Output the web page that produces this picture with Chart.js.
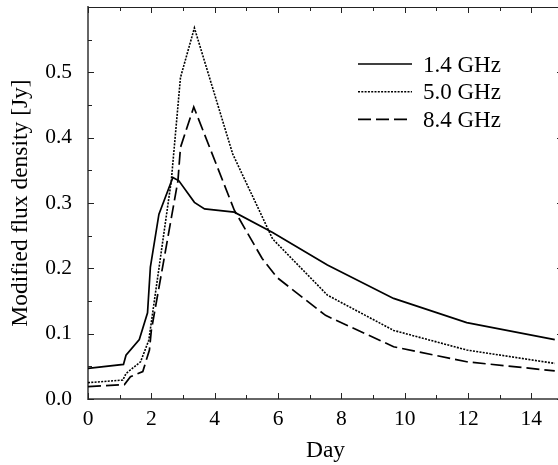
<!DOCTYPE html>
<html>
<head>
<meta charset="utf-8">
<script src="https://cdn.jsdelivr.net/npm/chart.js@4.4.0/dist/chart.umd.min.js"></script>
<style>
  html, body { margin: 0; padding: 0; background: #fff; overflow: hidden; }
  canvas { display: block; }
</style>
</head>
<body>
<canvas id="chart" width="566" height="465"></canvas>
<script>
// values
const seriesNames = ['1.4 GHz', '5.0 GHz', '8.4 GHz'];

const days14 = [0, 1.12, 1.2, 1.62, 1.88, 1.97, 2.24, 2.68, 2.87, 3.36, 3.68, 4.62, 5.83, 7.56, 9.65, 11.96, 14.74];
const flux14 = [0.047, 0.053, 0.067, 0.091, 0.132, 0.202, 0.283, 0.339, 0.334, 0.301, 0.291, 0.286, 0.255, 0.205, 0.154, 0.117, 0.091];

const days50 = [0, 1.1, 1.2, 1.66, 1.92, 2.63, 2.92, 3.36, 4.57, 5.83, 7.56, 9.65, 11.96, 14.74];
const flux50 = [0.025, 0.029, 0.039, 0.057, 0.09, 0.334, 0.492, 0.568, 0.375, 0.245, 0.159, 0.105, 0.075, 0.0545];

const days84 = [0, 1.15, 1.34, 1.73, 1.94, 2.0, 2.84, 2.92, 3.34, 4.62, 5.5, 5.97, 7.5, 9.65, 11.96, 14.74];
const flux84 = [0.019, 0.022, 0.034, 0.042, 0.075, 0.105, 0.334, 0.385, 0.447, 0.289, 0.215, 0.186, 0.128, 0.08, 0.057, 0.043];

const xTickValues = [0, 2, 4, 6, 8, 10, 12, 14];
const xMinorValues = [1, 3, 5, 7, 9, 11, 13];
const yTickValues = [0, 0.1, 0.2, 0.3, 0.4, 0.5];
const yMinorValues = [0.05, 0.15, 0.25, 0.35, 0.45, 0.55];

const FONT = 'Liberation Serif';

function toPoints(xs, ys) {
  return xs.map((x, i) => ({ x: x, y: ys[i] }));
}

// inward tick marks on all four sides + top/right frame
const frameTicks = {
  id: 'frameTicks',
  afterDraw(chart) {
    const ctx = chart.ctx;
    const a = chart.chartArea;
    const xs = chart.scales.x, ys = chart.scales.y;
    ctx.save();
    ctx.strokeStyle = '#222';
    ctx.lineWidth = 1;
    ctx.beginPath();
    ctx.moveTo(a.left, a.top + 0.5);
    ctx.lineTo(a.right, a.top + 0.5);
    ctx.moveTo(a.right - 0.5, a.top);
    ctx.lineTo(a.right - 0.5, a.bottom);
    const mark = (vals, len) => {
      vals.forEach(v => {
        const px = Math.round(xs.getPixelForValue(v)) + 0.5;
        ctx.moveTo(px, a.bottom); ctx.lineTo(px, a.bottom - len);
        ctx.moveTo(px, a.top); ctx.lineTo(px, a.top + len);
      });
    };
    const markY = (vals, len) => {
      vals.forEach(v => {
        const py = Math.round(ys.getPixelForValue(v)) + 0.5;
        ctx.moveTo(a.left, py); ctx.lineTo(a.left + len, py);
        ctx.moveTo(a.right, py); ctx.lineTo(a.right - len, py);
      });
    };
    mark(xTickValues, 6);
    mark(xMinorValues, 4);
    markY(yTickValues, 6);
    markY(yMinorValues, 4);
    ctx.stroke();
    ctx.restore();
  }
};

// key drawn inside the plot, top right
const lineKey = {
  id: 'lineKey',
  afterDraw(chart) {
    const ctx = chart.ctx;
    ctx.save();
    chart.data.datasets.forEach((ds, i) => {
      const y = 64 + i * 27.7;
      ctx.strokeStyle = ds.borderColor;
      ctx.lineWidth = ds.borderWidth;
      ctx.setLineDash(ds.borderDash || []);
      ctx.beginPath();
      ctx.moveTo(358, y);
      ctx.lineTo(412, y);
      ctx.stroke();
      ctx.setLineDash([]);
      ctx.fillStyle = '#000';
      ctx.font = '23px "' + FONT + '"';
      ctx.textBaseline = 'middle';
      ctx.fillText(ds.label, 423, y + 1.5);
    });
    ctx.restore();
  }
};

new Chart(document.getElementById('chart').getContext('2d'), {
  type: 'line',
  data: {
    datasets: [
      { label: seriesNames[0], data: toPoints(days14, flux14), borderColor: '#000', borderWidth: 1.7, borderDash: [] },
      { label: seriesNames[1], data: toPoints(days50, flux50), borderColor: '#000', borderWidth: 1.6, borderDash: [2, 1.3] },
      { label: seriesNames[2], data: toPoints(days84, flux84), borderColor: '#000', borderWidth: 1.7, borderDash: [13, 5] }
    ]
  },
  options: {
    responsive: false,
    animation: false,
    events: [],
    layout: { padding: { top: 7, right: 3, left: 0, bottom: 0 } },
    elements: { point: { radius: 0 }, line: { tension: 0, fill: false } },
    plugins: { legend: { display: false }, tooltip: { enabled: false } },
    scales: {
      x: {
        type: 'linear',
        min: 0,
        max: 15,
        afterFit: (s) => { s.height = 66; s.paddingLeft = 0; s.paddingRight = 0; },
        afterBuildTicks: (s) => { s.ticks = xTickValues.map(v => ({ value: v })); },
        grid: { display: false, drawTicks: false },
        border: { display: true, color: '#666', width: 2 },
        ticks: { color: '#000', padding: 7, maxRotation: 0, font: { family: FONT, size: 21.5 } },
        title: { display: true, text: 'Day', color: '#000', padding: { top: 0, bottom: 0 }, font: { family: FONT, size: 23.5 } }
      },
      y: {
        min: 0,
        max: 0.6,
        afterFit: (s) => { s.width = 88; s.paddingTop = 0; s.paddingBottom = 0; },
        afterBuildTicks: (s) => { s.ticks = yTickValues.map(v => ({ value: v })); },
        grid: { display: false, drawTicks: false },
        border: { display: true, color: '#666', width: 2 },
        ticks: { color: '#000', padding: 16, callback: (v) => Number(v).toFixed(1), font: { family: FONT, size: 21.5 } },
        title: { display: true, text: 'Modified flux density [Jy]', color: '#000', padding: { top: 7, bottom: 0 }, font: { family: FONT, size: 23.5 } }
      }
    }
  },
  plugins: [frameTicks, lineKey]
});
</script>
</body>
</html>
